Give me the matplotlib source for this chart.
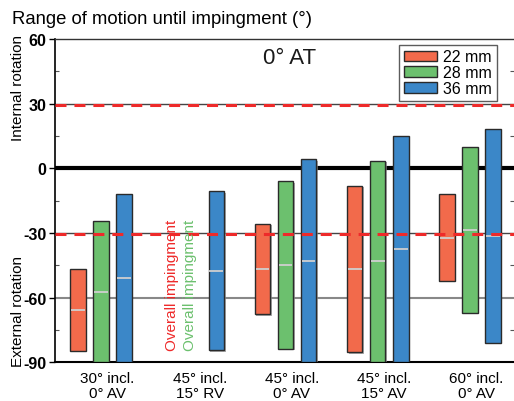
import matplotlib
matplotlib.use("Agg")
import matplotlib.pyplot as plt
import matplotlib.patheffects as pe
from matplotlib.patches import Patch
import numpy as np

plt.rcParams['font.family'] = ['Liberation Sans', 'DejaVu Sans']

groups = ["30° incl.\n0° AV", "45° incl.\n15° RV", "45° incl.\n0° AV", "45° incl.\n15° AV", "60° incl.\n0° AV"]
series = ["22 mm", "28 mm", "36 mm"]
colors = ["#F26A4B", "#6CC06E", "#3B87C8"]

red_top = [-46.8, np.nan, -25.7, -8.0, -11.9]
red_bottom = [-84.6, np.nan, -67.8, -85.4, -52.2]
red_mean = [-65.9, np.nan, -46.9, -46.9, -32.3]

green_top = [-24.6, np.nan, -5.9, 3.6, 9.8]
green_bottom = [-90, np.nan, -83.6, -90, -66.9]
green_mean = [-57.3, np.nan, -44.7, -43.1, -28.8]

blue_top = [-11.8, -10.7, 4.4, 15.2, 18.3]
blue_bottom = [-90, -84.5, -90, -90, -80.9]
blue_mean = [-50.8, -47.6, -43.0, -37.4, -31.4]

tops = [red_top, green_top, blue_top]
bottoms = [red_bottom, green_bottom, blue_bottom]
means = [red_mean, green_mean, blue_mean]

fig = plt.figure(figsize=(5.14, 4.02), dpi=100)
ax = fig.add_axes([55/514, 1-363.3/402, 1-55/514, (363.3-40)/402])
ax.set_xlim(-0.4986, 4.477)
ax.set_ylim(-90, 60)

# reference lines
ax.axhline(0, color="black", lw=3, zorder=2)
ax.axhline(30, color="#444444", lw=1.0, zorder=2)
ax.axhline(-30, color="#444444", lw=1.0, zorder=2)
ax.axhline(-60, color="#888888", lw=1.5, zorder=2)
ax.axhline(29.3, color="#EE2A2A", lw=2.2, ls=(0, (3.6, 2.6)), zorder=5)
ax.axhline(-30.4, color="#EE2A2A", lw=2.2, ls=(0, (3.6, 2.6)), zorder=5)

x = np.arange(len(groups))
offsets = [-0.25, 0.0, 0.25]
width = 0.168
for k in range(3):
    t = np.array(tops[k], dtype=float)
    b = np.array(bottoms[k], dtype=float)
    m = np.array(means[k], dtype=float)
    xs = x + offsets[k]
    ok = ~np.isnan(t)
    bars = ax.bar(xs[ok], t[ok] - b[ok], bottom=b[ok], width=width, color=colors[k],
                  edgecolor="#2a2a2a", linewidth=1.0, zorder=3)
    for bar in bars:
        bar.set_path_effects([pe.SimplePatchShadow(offset=(1.2, -1.2), shadow_rgbFace="#888888", alpha=0.7), pe.Normal()])
    ax.hlines(m[ok], xs[ok] - width/2 + 0.01, xs[ok] + width/2 - 0.01, color="#CFCFCF", lw=1.3, zorder=4)

ax.text(0.77, -54, "Overall impingment", rotation=90, color="#EE2A2A", fontsize=11,
        ha="center", va="center", zorder=6)
ax.text(0.965, -54, "Overall impingment", rotation=90, color="#6CC06E", fontsize=11,
        ha="center", va="center", zorder=6)

ax.text(2.04, 51.4, "0° AT", fontsize=16, ha="center", va="center", color="#1a1a1a")

# axes styling
ax.spines["right"].set_visible(False)
ax.spines["top"].set_color("#333333")
ax.spines["top"].set_linewidth(1.0)
ax.spines["left"].set_linewidth(1.2)
ax.spines["bottom"].set_linewidth(1.5)

ax.set_yticks([60, 30, 0, -30, -60, -90])
ax.set_yticklabels(["60", "30", "0", "-30", "-60", "-90"], fontweight="bold", fontsize=11.5)
ax.set_yticks([45, 15, -15, -45, -75], minor=True)
ax.tick_params(axis="y", which="major", direction="out", length=4, width=1, pad=2, left=True, right=False)
ax.tick_params(axis="y", which="minor", direction="in", length=3, width=0.8, left=True, right=True, color="#555555")

ax.set_xticks(x + 0.07)
ax.set_xticklabels(groups, fontsize=11, linespacing=1.1)
ax.tick_params(axis="x", length=0, pad=6)

fig.text(18/514, 1-88/402, "Internal rotation", rotation=90, fontsize=11, ha="center", va="center")
fig.text(18/514, 1-312/402, "External rotation", rotation=90, fontsize=11, ha="center", va="center")
fig.text(12/514, 1-19/402, "Range of motion until impingment (°)", fontsize=13.3, ha="left", va="center")

handles = [Patch(facecolor=c, edgecolor="#2a2a2a", linewidth=1.0) for c in colors]
leg = ax.legend(handles, series, loc="upper right",
                bbox_to_anchor=((497-55)/(514-55), (363.3-45.7)/323.3),
                bbox_transform=ax.transAxes, fontsize=11.5, frameon=True, fancybox=False,
                handlelength=2.1, handleheight=0.62, handletextpad=0.4, labelspacing=0.05,
                borderpad=0.3, borderaxespad=0)
leg.get_frame().set_edgecolor("#333333")
leg.get_frame().set_linewidth(1.0)

fig.savefig("out.png", dpi=100)
